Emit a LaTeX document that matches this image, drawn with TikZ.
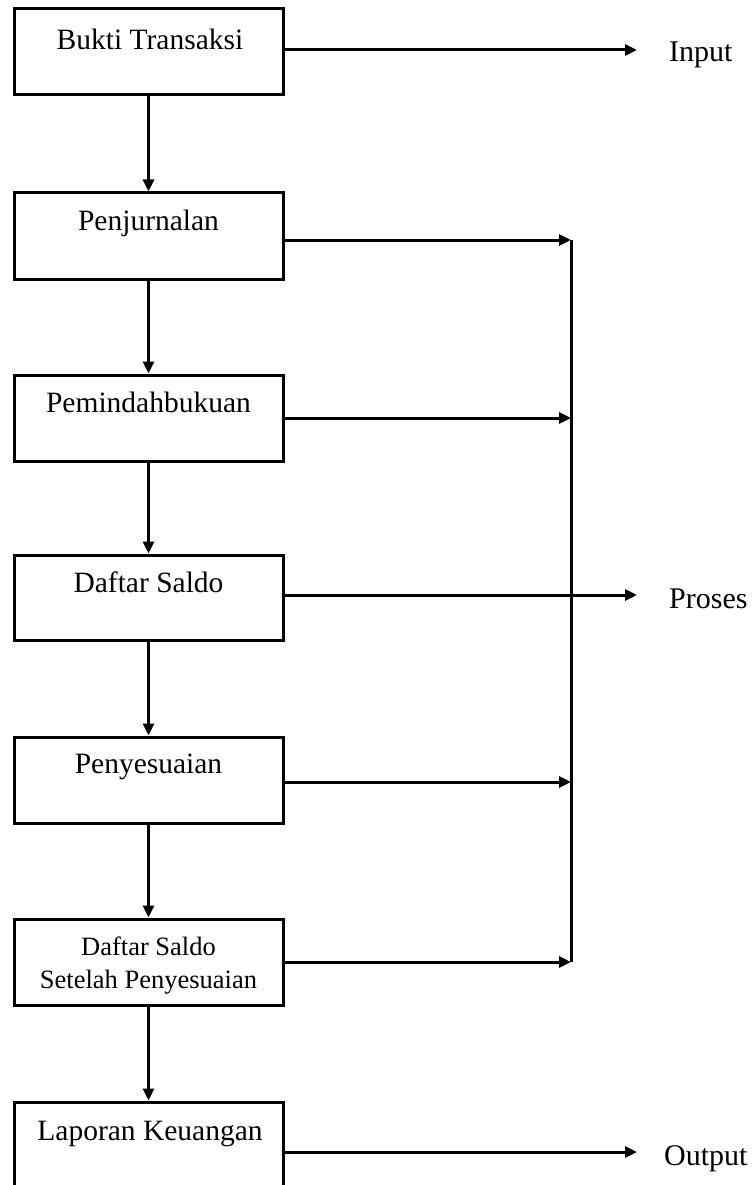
\documentclass[tikz,border=0pt]{standalone}
\usepackage{fontspec}
\setmainfont{Liberation Serif}
\usetikzlibrary{arrows.meta}
\begin{document}
\begin{tikzpicture}[x=1pt,y=-1pt,
  box/.style={draw,line width=3pt,minimum width=269pt,inner sep=0pt},
  txt/.style={inner sep=0pt,anchor=base,font=\fontsize{29.5}{34}\selectfont},
  small/.style={inner sep=0pt,anchor=base,font=\fontsize{26.5}{30}\selectfont},
  lab/.style={inner sep=0pt,anchor=base west,font=\fontsize{30}{34}\selectfont},
  arr/.style={line width=3pt,-{Triangle[length=12pt,width=11pt]}},
  ln/.style={line width=3pt}]
\useasboundingbox (0,0) rectangle (755,1185);
% boxes
\node[box,minimum height=86pt] (b1) at (148.5,52) {};
\node[box,minimum height=86pt] (b2) at (148.5,236) {};
\node[box,minimum height=86pt] (b3) at (148.5,418) {};
\node[box,minimum height=85pt] (b4) at (148.5,597.5) {};
\node[box,minimum height=86pt] (b5) at (148.5,780) {};
\node[box,minimum height=86pt] (b6) at (148.5,962) {};
\node[box,minimum height=90pt] (b7) at (148.5,1147) {};
% texts
\node[txt] (t1) at (150,50) {Bukti Transaksi};
\node[txt] (t2) at (148.5,230) {Penjurnalan};
\node[txt] (t3) at (148.5,412) {Pemindahbukuan};
\node[txt] (t4) at (148.5,592) {Daftar Saldo};
\node[txt] (t5) at (148.5,773) {Penyesuaian};
\node[small] (t6a) at (148.5,955) {Daftar Saldo};
\node[small] (t6b) at (148.5,988) {Setelah Penyesuaian};
\node[txt] (t7) at (150,1140) {Laporan Keuangan};
% labels
\node[lab] (in) at (669,62) {Input};
\node[lab] (pr) at (669,608) {Proses};
\node[lab] (out) at (664,1165) {Output};
% coordinates
\coordinate (e1) at (637,50);
\coordinate (j2) at (571,240);
\coordinate (j3) at (571,418);
\coordinate (e4) at (637,595);
\coordinate (j5) at (571,782);
\coordinate (j6) at (571,962);
\coordinate (e7) at (637,1152);
% vertical flow
\draw[arr] (b1) -- (b2);
\draw[arr] (b2) -- (b3);
\draw[arr] (b3) -- (b4);
\draw[arr] (b4) -- (b5);
\draw[arr] (b5) -- (b6);
\draw[arr] (b6) -- (b7);
% right side
\draw[arr] (b1.east |- e1) -- (e1);
\draw[arr] (b2.east |- j2) -- (j2);
\draw[arr] (b3.east |- j3) -- (j3);
\draw[arr] (b4.east |- e4) -- (e4);
\draw[arr] (b5.east |- j5) -- (j5);
\draw[arr] (b6.east |- j6) -- (j6);
\draw[arr] (b7.east |- e7) -- (e7);
\draw[ln] (j2) -- (j6);
\end{tikzpicture}
\end{document}
